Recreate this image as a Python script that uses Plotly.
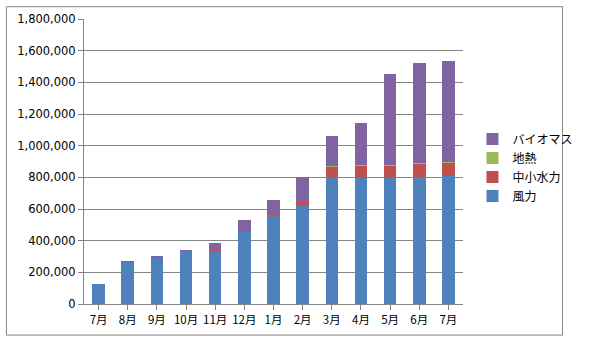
import plotly.graph_objects as go

months = ["7月", "8月", "9月", "10月", "11月", "12月", "1月", "2月", "3月", "4月", "5月", "6月", "7月"]
wind = [124000, 268000, 293000, 337000, 335000, 455000, 565000, 621000, 797000, 797000, 797000, 805000, 808000]
hydro = [0, 2000, 5000, 2000, 3000, 3000, 3000, 30000, 73000, 78000, 76000, 81000, 83000]
geo = [0, 0, 0, 0, 0, 0, 0, 2000, 2000, 3000, 3000, 3000, 3000]
bio = [0, 0, 3000, 1000, 50000, 71000, 90000, 146000, 191000, 264000, 577000, 635000, 642000]

xs = list(range(len(months)))
font_jp = "Noto Sans CJK JP, DejaVu Sans, sans-serif"
font_num = "DejaVu Sans, Verdana, sans-serif"

fig = go.Figure()
for name, vals, color in [("風力", wind, "#4F81BD"), ("中小水力", hydro, "#C0504D"),
                          ("地熱", geo, "#9BBB59"), ("バイオマス", bio, "#8064A2")]:
    fig.add_trace(go.Bar(x=xs, y=vals, name=name, marker=dict(color=color, line=dict(width=0))))

fig.update_layout(
    barmode="stack",
    bargap=0.57,
    width=590, height=339,
    margin=dict(l=84, r=108, t=15, b=35),
    paper_bgcolor="white", plot_bgcolor="white",
    showlegend=True,
    legend=dict(traceorder="reversed", x=1.025, y=0.63, xanchor="left", yanchor="top",
                bgcolor="rgba(0,0,0,0)",
                font=dict(family=font_jp, size=12, color="#000000"),
                itemwidth=30, tracegroupgap=0),
    xaxis=dict(tickvals=xs, ticktext=months, range=[-0.5, 12.5],
               showline=True, linecolor="#868686", linewidth=1,
               ticks="outside", tickson="boundaries", ticklen=5, tickcolor="#868686",
               tickfont=dict(family=font_jp, size=11.5, color="#000000"),
               showgrid=False, zeroline=False),
    yaxis=dict(range=[0, 1800000], dtick=200000, tickformat=",d",
               showline=True, linecolor="#868686", linewidth=1,
               ticks="outside", ticklen=5, tickcolor="#868686",
               gridcolor="#868686", gridwidth=1, zeroline=False,
               tickfont=dict(family=font_num, size=11.5, color="#000000")),
    shapes=[dict(type="rect", xref="paper", yref="paper",
                 x0=(2.5 - 84) / 398, x1=(586.5 - 84) / 398,
                 y0=(304 - 335.5) / 289, y1=(304 - 2.5) / 289,
                 line=dict(color="#868686", width=1), layer="below")],
)

fig.write_html("out.html")
